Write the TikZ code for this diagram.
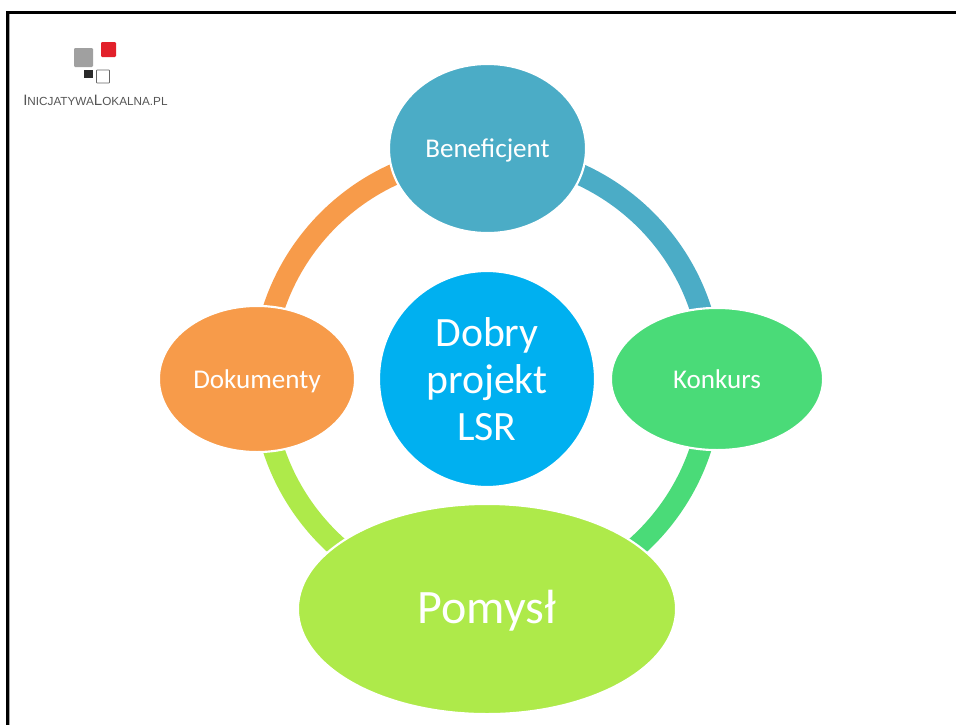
\documentclass[tikz,border=0pt]{standalone}
\usepackage{fontspec}
\setmainfont{Carlito}
\newfontfamily\logofont{Liberation Sans}
\definecolor{cTeal}{HTML}{4BACC6}
\definecolor{cGreen}{HTML}{4ADB78}
\definecolor{cLime}{HTML}{AEEA4A}
\definecolor{cOrange}{HTML}{F79B4A}
\definecolor{cBlue}{HTML}{00B0F0}
\definecolor{cLogoRed}{HTML}{E2202A}
\definecolor{cLogoGray}{HTML}{A0A0A0}
\definecolor{cLogoBlack}{HTML}{2A2A2A}
\definecolor{cLogoText}{HTML}{555555}
\usetikzlibrary{shapes.geometric}
\tikzset{
  x=0.75pt,y=0.75pt,
  blob/.style={ellipse,draw=white,line width=1.6pt,inner sep=0pt,text=white,align=center},
  smalltext/.style={font=\fontsize{20.3}{24}\selectfont,text height=16pt,text depth=2.5pt},
  bigtext/.style={font=\fontsize{31.3}{35}\selectfont},
  hugetext/.style={font=\fontsize{36}{40}\selectfont,text height=26pt,text depth=4pt},
  ringarc/.style={line width=16.1pt},
  logosq/.style={rounded corners=0.8pt},
}
\begin{document}
\begin{tikzpicture}
\useasboundingbox (0,0) rectangle (956,-725);
\fill[white] (0,0) rectangle (956,-725);
% frame
\fill[black] (6,-725) rectangle (9,-11);
\fill[black] (6,-11) rectangle (956,-14);
\fill[black!35] (9,-725) rectangle (10,-14);
% logo
\fill[cLogoRed,logosq] (101,-42) rectangle (116,-57);
\fill[cLogoGray,logosq] (74,-48) rectangle (93,-67);
\fill[cLogoBlack] (84,-70) rectangle (93,-78);
\draw[black!60,line width=0.5pt,rounded corners=0.4pt] (96.5,-70) rectangle (109.5,-83);
\node[inner sep=0pt,anchor=base west,text=cLogoText] (logo) at (23,-105)
  {\logofont\fontsize{11.3}{12}\selectfont I\fontsize{8.8}{12}\selectfont NICJATYWA\fontsize{11.3}{12}\selectfont L\fontsize{8.8}{12}\selectfont OKALNA.PL};
% ring
\coordinate (hub) at (487,-379);
\draw[ringarc,cTeal] ([shift={(90:224.7)}]hub) arc[start angle=90,end angle=0,radius=224.7];
\draw[ringarc,cGreen] ([shift={(0:224.7)}]hub) arc[start angle=0,end angle=-90,radius=224.7];
\draw[ringarc,cLime] ([shift={(-90:224.7)}]hub) arc[start angle=-90,end angle=-180,radius=224.7];
\draw[ringarc,cOrange] ([shift={(180:224.7)}]hub) arc[start angle=180,end angle=90,radius=224.7];
% nodes
\node[blob,fill=cBlue,bigtext,minimum width=162pt,minimum height=162pt] (center) at (hub) {Dobry\\projekt\\LSR};
\node[blob,fill=cTeal,smalltext,minimum width=147.8pt,minimum height=126.8pt] (ben) at (487.5,-148.5) {Beneficjent};
\node[blob,fill=cGreen,smalltext,minimum width=159.1pt,minimum height=106.6pt] (kon) at (717,-379) {Konkurs};
\node[blob,fill=cOrange,smalltext,minimum width=147.1pt,minimum height=109.6pt] (dok) at (257,-379) {Dokumenty};
\node[blob,fill=cLime,hugetext,minimum width=283.6pt,minimum height=157.6pt] (pom) at (487,-609) {Pomysł};
\end{tikzpicture}
\end{document}
